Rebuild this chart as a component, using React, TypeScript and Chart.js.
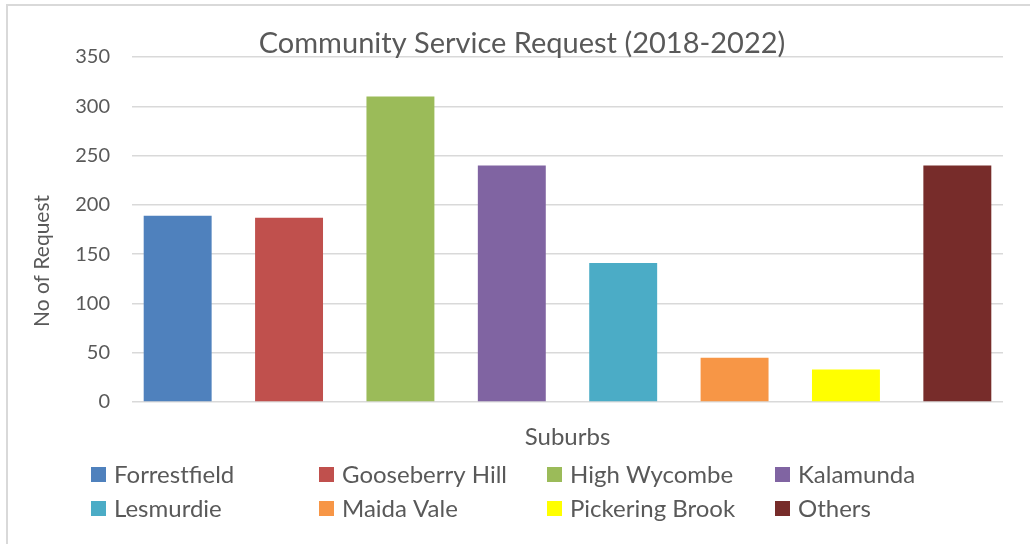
import React, { useEffect, useRef } from "react";
import { Chart, registerables } from "chart.js";

Chart.register(...registerables);

const suburbs = [
  "Forrestfield",
  "Gooseberry Hill",
  "High Wycombe",
  "Kalamunda",
  "Lesmurdie",
  "Maida Vale",
  "Pickering Brook",
  "Others",
];
const requests = [189, 187, 310, 240, 141, 45, 33, 240];
const barColors = [
  "#4F81BD",
  "#C0504D",
  "#9BBB59",
  "#8064A2",
  "#4BACC6",
  "#F79646",
  "#FFFF00",
  "#772C2A",
];
const yTicks = [0, 50, 100, 150, 200, 250, 300, 350];
const chartTitle = "Community Service Request (2018-2022)";
const yTitle = "No of Request";
const xTitle = "Suburbs";

const FONT = "Lato, 'Open Sans', sans-serif";
const TEXT = "#595959";

const borderPlugin = {
  id: "outerBorder",
  beforeDraw(chart: any) {
    const ctx = chart.ctx;
    ctx.save();
    ctx.fillStyle = "#ffffff";
    ctx.fillRect(0, 0, chart.width, chart.height);
    ctx.strokeStyle = "#d9d9d9";
    ctx.lineWidth = 2;
    ctx.strokeRect(7, 5, chart.width + 20, chart.height + 20);
    ctx.restore();
  },
};

const yTitlePlugin = {
  id: "yTitle",
  afterDraw(chart: any) {
    const ctx = chart.ctx;
    ctx.save();
    ctx.translate(42, 261);
    ctx.rotate(-Math.PI / 2);
    ctx.font = `21px ${FONT}`;
    ctx.fillStyle = TEXT;
    ctx.textAlign = "center";
    ctx.textBaseline = "middle";
    ctx.fillText(yTitle, 0, 0);
    ctx.restore();
  },
};

const gridLegendPlugin = {
  id: "gridLegend",
  afterDraw(chart: any) {
    const ctx = chart.ctx;
    ctx.save();
    ctx.font = `24px ${FONT}`;
    ctx.textBaseline = "middle";
    ctx.textAlign = "left";
    suburbs.forEach((name, i) => {
      const col = i % 4;
      const row = Math.floor(i / 4);
      const x = 91 + col * 228;
      const y = 474.5 + row * 34;
      ctx.fillStyle = barColors[i];
      ctx.fillRect(x, y - 7.5, 15, 15);
      ctx.fillStyle = TEXT;
      ctx.fillText(name, x + 23, y + 1);
    });
    ctx.restore();
  },
};

export default function App() {
  const canvasRef = useRef<HTMLCanvasElement | null>(null);

  useEffect(() => {
    if (!canvasRef.current) return;
    const chart = new Chart(canvasRef.current, {
      type: "bar",
      data: {
        datasets: [
          {
            label: yTitle,
            data: requests.map((v, i) => ({ x: i, y: v })),
            backgroundColor: barColors,
            borderWidth: 0,
            categoryPercentage: 1,
            barPercentage: 0.61,
          },
        ],
      },
      options: {
        animation: false,
        responsive: false,
        maintainAspectRatio: false,
        layout: { padding: { left: 41, right: 27, top: 0, bottom: 92.6 } },
        plugins: {
          legend: { display: false },
          tooltip: { enabled: false },
          title: {
            display: true,
            text: chartTitle,
            color: TEXT,
            font: { family: FONT, size: 29, weight: "normal" },
            padding: { top: 26.6, bottom: -4.4 },
          },
        },
        scales: {
          x: {
            type: "linear",
            offset: false,
            min: -0.41,
            max: 7.41,
            afterBuildTicks(scale: any) {
              scale.ticks = suburbs.map((_, i) => ({ value: i }));
            },
            grid: { display: false, drawTicks: false },
            border: { display: false },
            ticks: { display: false },
            title: {
              display: true,
              text: xTitle,
              color: TEXT,
              font: { family: FONT, size: 24 },
              padding: { top: 20.6, bottom: 0 },
            },
          },
          y: {
            min: 0,
            max: 350,
            afterFit(scale: any) {
              scale.width = 91;
            },
            afterBuildTicks(scale: any) {
              scale.ticks = yTicks.map((v) => ({ value: v }));
            },
            grid: { color: "#d9d9d9", lineWidth: 1.5, drawTicks: false },
            border: { display: false },
            ticks: {
              color: TEXT,
              padding: 22,
              font: { family: FONT, size: 20 },
            },
            title: { display: false },
          },
        },
      },
      plugins: [borderPlugin, yTitlePlugin, gridLegendPlugin],
    } as any);
    return () => chart.destroy();
  }, []);

  return (
    <div style={{ position: "fixed", left: 0, top: 0, width: 1030, height: 544, background: "#fff" }}>
      <canvas ref={canvasRef} width={1030} height={544} style={{ display: "block", width: 1030, height: 544 }} />
    </div>
  );
}
